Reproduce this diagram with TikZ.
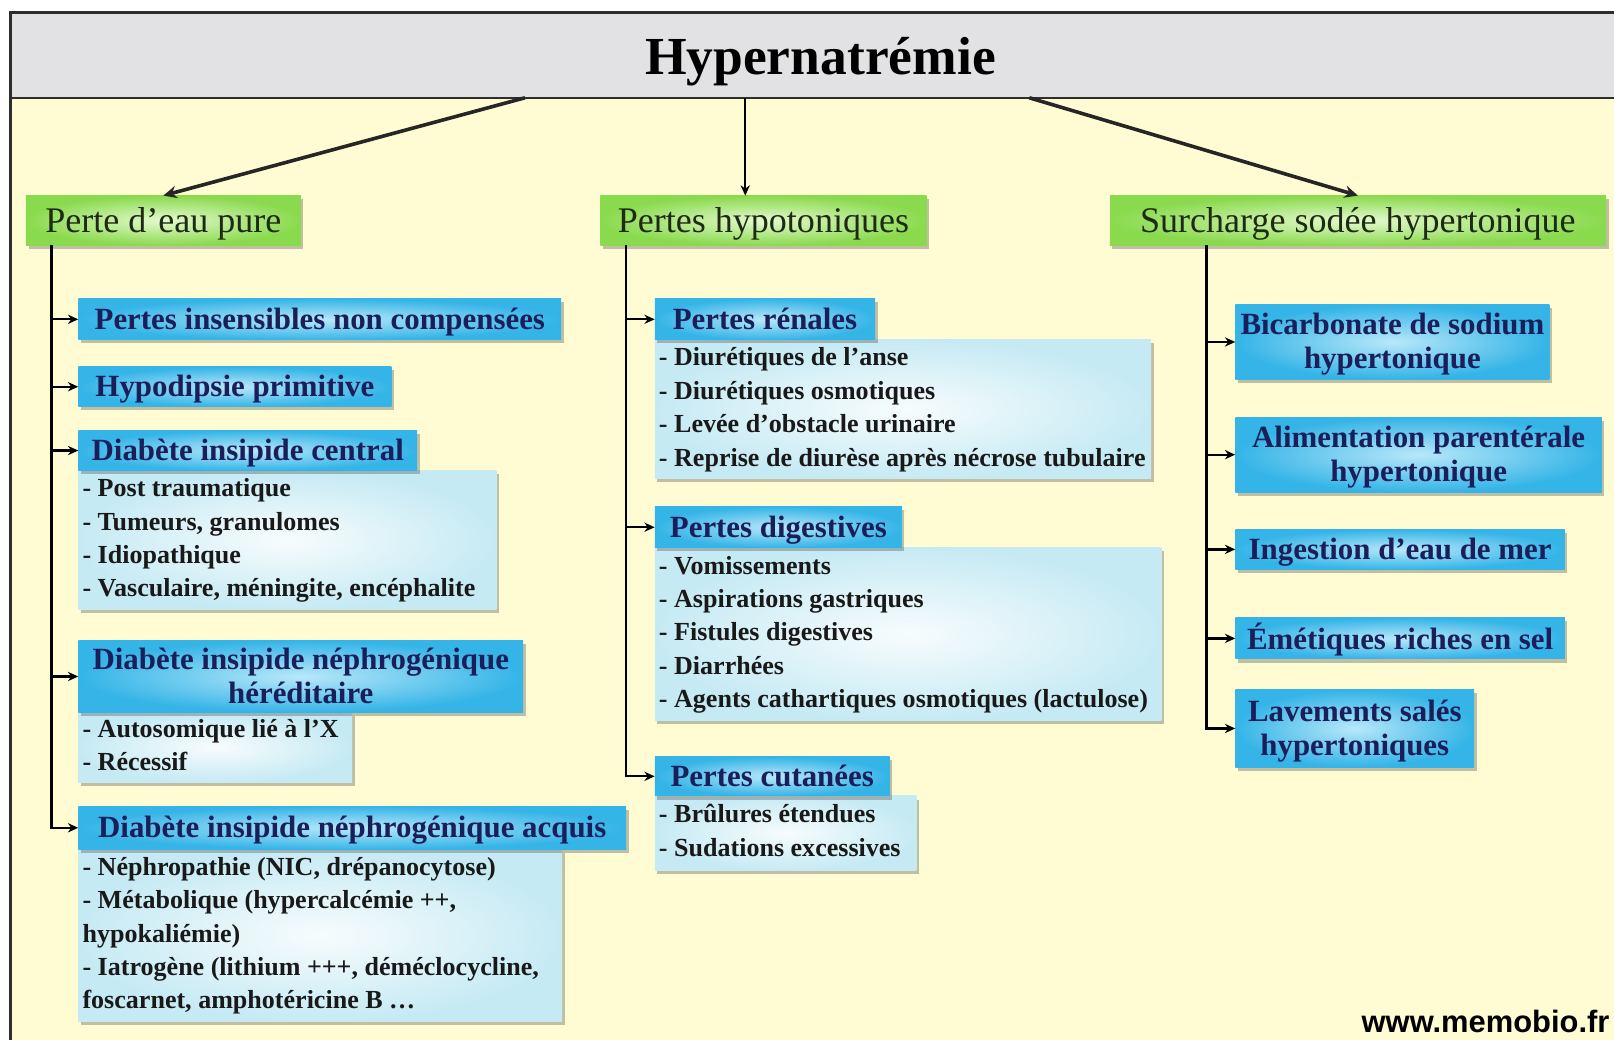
\documentclass[tikz,border=0pt]{standalone}
\usepackage{fontspec}
\setmainfont{Liberation Serif}
\newfontfamily\webfont{Liberation Sans}
\usetikzlibrary{shadows,arrows.meta,calc}
\definecolor{bgyel}{HTML}{FFFCD3}
\definecolor{hdrgray}{HTML}{E2E2E4}
\definecolor{framec}{HTML}{2E2E2E}
\definecolor{grnIn}{HTML}{E4F9CF}
\definecolor{grnOut}{HTML}{8ADA4E}
\definecolor{grnTxt}{HTML}{1E2A12}
\definecolor{bluIn}{HTML}{B8E8F9}
\definecolor{bluOut}{HTML}{34B4E7}
\definecolor{bluTxt}{HTML}{1A1E5A}
\definecolor{detIn}{HTML}{F7FCFD}
\definecolor{detOut}{HTML}{C6EAF4}
\newcommand\bl[1]{\raisebox{-3pt}[\height][\depth]{\begin{tabular}{@{}c@{}}#1\end{tabular}}}
\newcommand\dl[2]{\makebox[#1][l]{\begin{tabular}{@{}l@{}}#2\end{tabular}}}
\newcommand\gl[1]{\raisebox{-3.5pt}[\height][\depth]{#1}}
\begin{document}
\begin{tikzpicture}[x=1pt,y=-1pt,
  shad/.style={drop shadow={shadow xshift=2.5pt,shadow yshift=-3.5pt,opacity=0.35,fill=black!70}},
  grnbox/.style={anchor=north west, inner sep=0pt, minimum height=48pt, inner color=grnIn, outer color=grnOut, text=grnTxt, font=\fontsize{35}{38}\selectfont, shad},
  blubox/.style={anchor=north west, inner sep=0pt, inner color=bluIn, outer color=bluOut, text=bluTxt, font=\bfseries\fontsize{30}{33}\selectfont, shad},
  detbox/.style={anchor=north west, inner xsep=4pt, inner ysep=0pt, inner color=detIn, outer color=detOut, text=black!90, font=\bfseries\fontsize{25.3}{32.5}\selectfont, shad},
  conn/.style={line width=2.2pt, draw=black, -{Stealth[length=10pt,width=9pt]}},
  bigarr/.style={line width=3.5pt, draw=black!85, -{Stealth[length=13pt,width=12pt]}},
]
\useasboundingbox (0,0) rectangle (1568,1010);
\clip (0,0) rectangle (1568,1010);
% frame and header
\fill[bgyel] (10,12) rectangle (1600,1040);
\fill[hdrgray] (10,12) rectangle (1600,95);
\draw[framec, line width=3pt] (1600,12) -- (10,12) -- (10,1040);
\draw[framec, line width=2.5pt] (10,95) -- (1600,95);
\node[font=\bfseries\fontsize{52}{56}\selectfont, anchor=base] (title) at (797,72) {Hypernatrémie};
\coordinate (hA) at (510,95);
\coordinate (hB) at (724,95);
\coordinate (hC) at (1000,95);

% level 1
\node[grnbox, minimum width=267pt] (g1) at (25,190) {\gl{Perte d’eau pure}};
\node[grnbox, minimum width=317pt] (g2) at (583,190) {\gl{Pertes hypotoniques}};
\node[grnbox, minimum width=482pt] (g3) at (1078,190) {\gl{Surcharge sodée hypertonique}};

\draw[bigarr] (hA) -- (g1.north);
\draw[line width=1.6pt, -{Stealth[length=10pt,width=9pt]}] (hB) -- (hB |- g2.north);
\draw[bigarr] (hC) -- (g3.north);

% left column
\node[detbox, minimum height=135pt] (d3) at (76,457) {\dl{398pt}{- Post traumatique\\- Tumeurs, granulomes\\- Idiopathique\\- Vasculaire, méningite, encéphalite}};
\node[detbox, minimum height=68pt] (d4) at (76,692) {\dl{258pt}{- Autosomique lié à l’X\\- Récessif}};
\node[detbox, minimum height=167pt] (d5) at (76,825) {\dl{462pt}{- Néphropathie (NIC, drépanocytose)\\- Métabolique (hypercalcémie ++,\\hypokaliémie)\\- Iatrogène (lithium +++, déméclocycline,\\foscarnet, amphotéricine B …}};
\node[blubox, minimum width=469pt, minimum height=40pt] (b1) at (76,290) {\bl{Pertes insensibles non compensées}};
\node[blubox, minimum width=304pt, minimum height=39pt] (b2) at (76,356) {\bl{Hypodipsie primitive}};
\node[blubox, minimum width=329pt, minimum height=39pt] (b3) at (76,418) {\bl{Diabète insipide central}};
\node[blubox, minimum width=432pt, minimum height=70pt] (b4) at (76,622) {\bl{Diabète insipide néphrogénique\\héréditaire}};
\node[blubox, minimum width=532pt, minimum height=42pt] (b5) at (76,783) {\bl{Diabète insipide néphrogénique acquis}};

% middle column
\node[detbox, minimum height=135pt] (md1) at (636,330) {\dl{474pt}{- Diurétiques de l’anse\\- Diurétiques osmotiques\\- Levée d’obstacle urinaire\\- Reprise de diurèse après nécrose tubulaire}};
\node[detbox, minimum height=168pt] (md2) at (636,532) {\dl{484pt}{- Vomissements\\- Aspirations gastriques\\- Fistules digestives\\- Diarrhées\\- Agents cathartiques osmotiques (lactulose)}};
\node[detbox, minimum height=72pt] (md3) at (636,773) {\dl{246pt}{- Brûlures étendues\\- Sudations excessives}};
\node[blubox, minimum width=214pt, minimum height=40pt] (m1) at (636,290) {\bl{Pertes rénales}};
\node[blubox, minimum width=240pt, minimum height=40pt] (m2) at (636,492) {\bl{Pertes digestives}};
\node[blubox, minimum width=228pt, minimum height=38pt] (m3) at (636,735) {\bl{Pertes cutanées}};

% right column
\node[blubox, minimum width=305pt, minimum height=72pt] (r1) at (1200,296) {\bl{Bicarbonate de sodium\\hypertonique}};
\node[blubox, minimum width=356pt, minimum height=73pt] (r2) at (1200,405) {\bl{Alimentation parentérale\\hypertonique}};
\node[blubox, minimum width=320pt, minimum height=39pt] (r3) at (1200,514) {\bl{Ingestion d’eau de mer}};
\node[blubox, minimum width=320pt, minimum height=40pt] (r4) at (1200,600) {\bl{Émétiques riches en sel}};
\node[blubox, minimum width=232pt, minimum height=75pt] (r5) at (1200,670) {\bl{Lavements salés\\hypertoniques}};

% trunks
\coordinate (t1) at ([xshift=25pt]g1.south west);
\coordinate (t2) at ([xshift=25pt]g2.south west);
\coordinate (t3) at ([xshift=94pt]g3.south west);
\foreach \n in {b1,b2,b3,b4,b5} \draw[conn] (t1) |- (\n.west);
\foreach \n in {m1,m2,m3} \draw[conn] (t2) |- (\n.west);
\foreach \n in {r1,r2,r3,r4,r5} \draw[conn] (t3) |- (\n.west);

\node[font=\webfont\bfseries\fontsize{30}{32}\selectfont, anchor=base east] (web) at (1567,1003) {www.memobio.fr};
\end{tikzpicture}
\end{document}
